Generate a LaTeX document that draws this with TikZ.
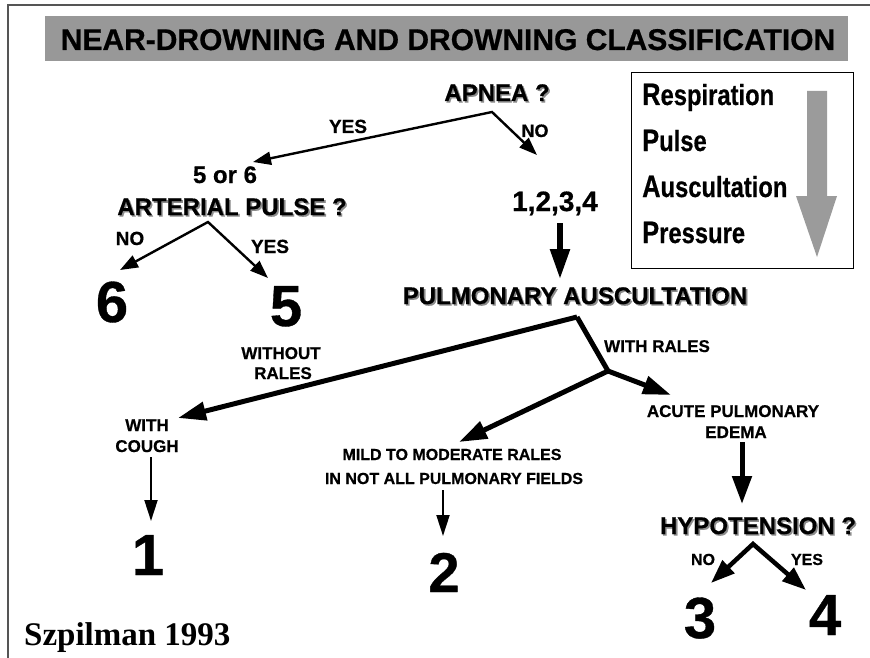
\documentclass[tikz,border=0pt]{standalone}
\usepackage{fontspec}
\setmainfont{Liberation Sans}[BoldFeatures={FakeBold=0.6}]
\newfontfamily\szfont{Liberation Serif}
\usepackage{graphicx}
\usetikzlibrary{arrows.meta}
\definecolor{bargray}{RGB}{152,152,152}
\definecolor{framegray}{RGB}{85,85,85}
\definecolor{shadowgray}{RGB}{140,140,140}
\definecolor{arrowgray}{RGB}{155,155,155}
\newcommand{\myfs}[1]{\fontsize{#1}{#1}\selectfont\bfseries}
\newcommand{\shadowed}[4]{%
  \node[shd] at (#2) {\myfs{#3}#4};
  \node[lbl] (#1) at (#2) {\myfs{#3}#4};}
\begin{document}
\begin{tikzpicture}[x=1pt,y=-1pt,
  lbl/.style={inner sep=0pt, anchor=base, text=black},
  shd/.style={inner sep=0pt, anchor=base, text=shadowgray, xshift=1.6pt, yshift=-1.6pt},
  forkthin/.style={line width=2.4pt, line join=miter,
     {Triangle[length=18pt,width=13pt]}-{Triangle[length=18pt,width=13pt]}},
  plainarr/.style={line width=2pt, -{Triangle[length=21pt,width=13pt]}},
  fatarr/.style={line width=5.5pt, -{Triangle[length=30pt,width=19pt]}},
  forkfat/.style={line width=5pt, line join=miter},
  fathead/.style={-{Triangle[length=28pt,width=18pt]}},
  hypoarr/.style={line width=4.5pt, line join=miter,
     {Triangle[length=24pt,width=17pt]}-{Triangle[length=24pt,width=17pt]}}
]
\useasboundingbox (0,0) rectangle (870,658);

% frame
\draw[framegray, line width=2.4pt] (870,5) -- (8,5) -- (8,658);

% title bar
\node[fill=bargray, minimum width=803pt, minimum height=45pt, inner sep=0pt,
      anchor=north west] (titlebar) at (45,16) {};
\node[lbl] (title) at (448,50) {\myfs{30}NEAR-DROWNING AND DROWNING CLASSIFICATION};

% RPAP box
\node[draw=black, line width=1.2pt, minimum width=222pt, minimum height=196pt,
      inner sep=0pt, anchor=north west] (rpap) at (631,72) {};
\fill[arrowgray] (807,91) -- (827,91) -- (827,196) -- (837,196) -- (817,257)
   -- (796,196) -- (807,196) -- cycle;
\node[lbl, anchor=base west] (resp) at (642,105) {\scalebox{0.82}[1]{\myfs{31}R\myfs{29}espiration}};
\node[lbl, anchor=base west] (puls) at (642,151) {\scalebox{0.82}[1]{\myfs{31}P\myfs{29}ulse}};
\node[lbl, anchor=base west] (ausc) at (642,197) {\scalebox{0.82}[1]{\myfs{31}A\myfs{29}uscultation}};
\node[lbl, anchor=base west] (pres) at (642,243) {\scalebox{0.82}[1]{\myfs{31}P\myfs{29}ressure}};

% upper tree
\shadowed{apnea}{497,101}{24}{APNEA ?}
\node[lbl] (yes1) at (348,133) {\myfs{19}YES};
\node[lbl] (no1) at (535,137) {\myfs{18}NO};
\node[lbl] (fivesix) at (225,183) {\myfs{24}5 or 6};
\shadowed{artp}{232,215}{24}{ARTERIAL PULSE ?}
\node[lbl] (no2) at (130,245) {\myfs{19}NO};
\node[lbl] (yes2) at (270,253) {\myfs{19}YES};
\node[lbl] (six) at (112,322) {\myfs{58}6};
\node[lbl] (five) at (286,326) {\myfs{58}5};
\node[lbl] (onefour) at (555,211) {\myfs{28}1,2,3,4};

\coordinate (apJ) at (492,112);
\coordinate (apYes) at (253,162);
\coordinate (apNo) at (537,155);
\draw[forkthin] (apYes) -- (apJ) -- (apNo);

\coordinate (artJ) at (208,222);
\coordinate (artNo) at (120,270);
\coordinate (artYes) at (268,278);
\draw[forkthin] (artNo) -- (artJ) -- (artYes);

\coordinate (ofTop) at (560,223);
\coordinate (ofTip) at (560,279);
\draw[fatarr] (ofTop) -- (ofTip);

% pulmonary auscultation
\shadowed{pulm}{575,304}{24}{PULMONARY AUSCULTATION}
\coordinate (paJ) at (577,317);
\coordinate (paK) at (608,371);
\coordinate (paLeft) at (178,418);
\coordinate (paAcute) at (671,395);
\coordinate (paMild) at (459,442);
\draw[forkfat, fathead] (paJ) -- (paLeft);
\draw[forkfat] (paJ) -- (paK);
\draw[line width=5pt, fathead] (paK) -- (paAcute);
\draw[line width=5pt, fathead] (paK) -- (paMild);

\node[lbl] (withrales) at (657,352) {\myfs{17}WITH RALES};
\node[lbl] (without) at (281,359) {\myfs{17}WITHOUT};
\node[lbl] (rales) at (283,379) {\myfs{17}RALES};
\node[lbl] (with) at (147,431) {\myfs{17}WITH};
\node[lbl] (cough) at (147,452) {\myfs{17}COUGH};
\node[lbl] (mild1) at (452,460) {\myfs{16}MILD TO MODERATE RALES};
\node[lbl] (mild2) at (454,484) {\myfs{16}IN NOT ALL PULMONARY FIELDS};
\node[lbl] (acute1) at (733,417) {\myfs{17}ACUTE PULMONARY};
\node[lbl] (acute2) at (736,438) {\myfs{17}EDEMA};

\node[lbl] (one) at (148,575) {\myfs{58}1};
\node[lbl] (two) at (444,592) {\myfs{56}2};

\coordinate (cTop) at (151,457);
\coordinate (cTip) at (151,521);
\draw[plainarr] (cTop) -- (cTip);
\coordinate (mTop) at (443,490);
\coordinate (mTip) at (443,536);
\draw[plainarr] (mTop) -- (mTip);

\coordinate (aTop) at (742,442);
\coordinate (aTip) at (742,504);
\draw[line width=5pt, -{Triangle[length=28pt,width=19pt]}] (aTop) -- (aTip);

\shadowed{hypo}{758,534}{24}{HYPOTENSION ?}
\coordinate (hJ) at (753,544);
\coordinate (hNo) at (711,583);
\coordinate (hYes) at (806,590);
\draw[hypoarr] (hNo) -- (hJ) -- (hYes);
\node[lbl] (no3) at (703,565) {\myfs{16}NO};
\node[lbl] (yes3) at (807,565) {\myfs{16}YES};
\node[lbl] (three) at (700,638) {\myfs{58}3};
\node[lbl] (four) at (825,635) {\myfs{58}4};

\node[lbl, anchor=base west] (szp) at (24,645) {\szfont\fontsize{33}{33}\selectfont\bfseries Szpilman 1993};
\end{tikzpicture}
\end{document}
